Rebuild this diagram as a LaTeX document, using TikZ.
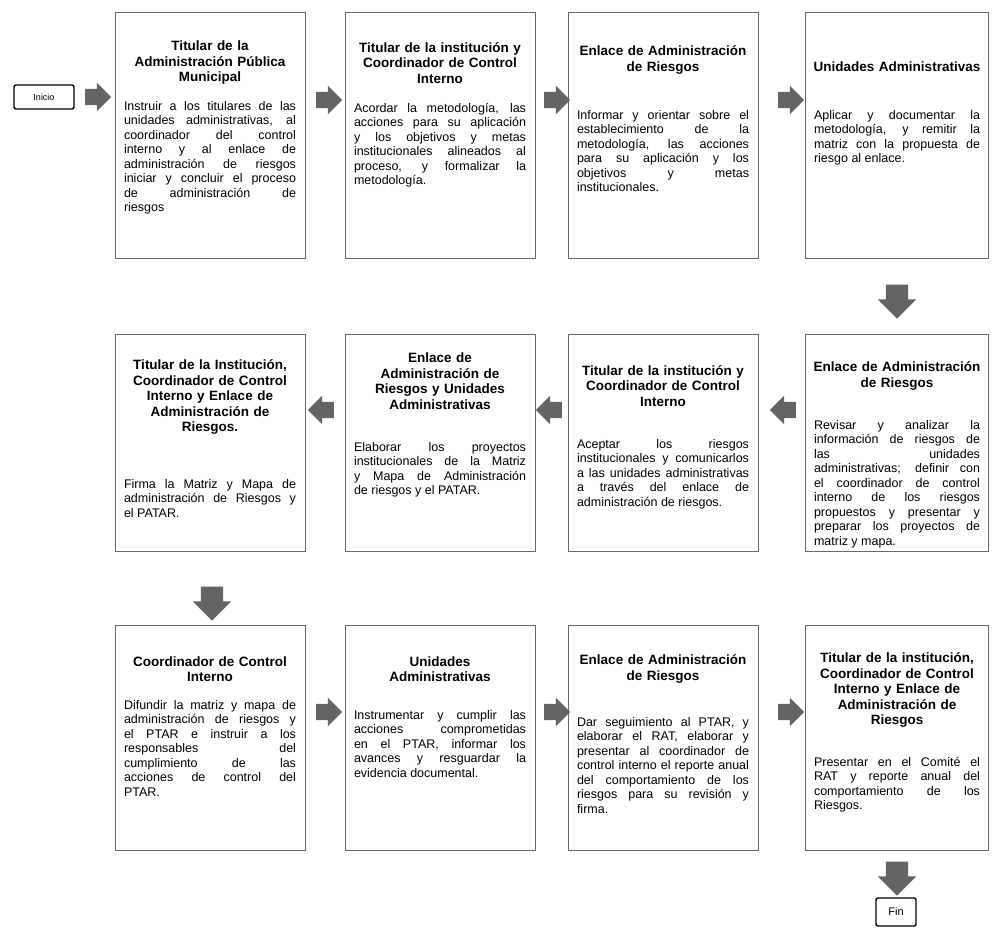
\documentclass[tikz,border=0pt]{standalone}
\usepackage{fontspec}
\setmainfont{Liberation Sans}
\usetikzlibrary{shapes.arrows,positioning}
\definecolor{grisflecha}{RGB}{100,100,100}
\definecolor{grisborde}{RGB}{105,105,105}
\hyphenpenalty=10000
\tolerance=9999
\hbadness=10000

\begin{document}
\begin{tikzpicture}[x=1pt,y=-1pt,
    caja/.style={draw=grisborde, line width=1pt, minimum width=190pt, inner sep=0},
    titulo/.style={text width=182pt, align=center, inner sep=0,
        font=\fontsize{13.5}{15.5}\selectfont\bfseries},
    cuerpo/.style={text width=172pt, align=justify, inner sep=0, anchor=north,
        font=\fontsize{12.5}{14.5}\selectfont},
    flecha/.style={single arrow, fill=grisflecha, draw=none, inner xsep=0, inner ysep=8pt,
        minimum height=26pt, single arrow head extend=6pt},
    flechagrande/.style={flecha, inner ysep=11pt, minimum height=34pt,
        single arrow head extend=8pt, rotate=-90},
    terminal/.style={draw, line width=1.4pt, rounded corners=2pt, inner sep=0}]
\useasboundingbox (0,0) rectangle (998,950);

% fila 1
\node[caja, minimum height=245pt] (p1) at (210,135.5) {};
\node[caja, minimum height=245pt] (p2) at (440,135.5) {};
\node[caja, minimum height=245pt] (p3) at (663,135.5) {};
\node[caja, minimum height=245pt, minimum width=183pt] (p4) at (897,135.5) {};

\node[titulo] (t1) at (210,63) {Titular de la\\ Administración Pública\\ Municipal};
\node[cuerpo] (c1) at (210,101) {Instruir a los titulares de las\linebreak unidades administrativas, al\linebreak coordinador del control\linebreak interno y al enlace de\linebreak administración de riesgos\linebreak iniciar y concluir el proceso\linebreak de administración de\linebreak riesgos};
\node[titulo] (t2) at (440,63) {Titular de la institución y\\ Coordinador de Control\\ Interno};
\node[cuerpo] (c2) at (440,103) {Acordar la metodología, las\linebreak acciones para su aplicación\linebreak y los objetivos y metas\linebreak institucionales alineados al\linebreak proceso, y formalizar la\linebreak metodología.};
\node[titulo] (t3) at (663,60) {Enlace de Administración\\ de Riesgos};
\node[cuerpo] (c3) at (663,110) {Informar y orientar sobre el\linebreak establecimiento de la\linebreak metodología, las acciones\linebreak para su aplicación y los\linebreak objetivos y metas\linebreak institucionales.};
\node[titulo] (t4) at (897,67) {Unidades Administrativas};
\node[cuerpo, text width=166pt] (c4) at (897,110) {Aplicar y documentar la\linebreak metodología, y remitir la\linebreak matriz con la propuesta de\linebreak riesgo al enlace.};

% fila 2
\node[caja, minimum height=217pt, minimum width=183pt] (p5) at (897,443) {};
\node[caja, minimum height=217pt] (p6) at (663,443) {};
\node[caja, minimum height=217pt] (p7) at (440,443) {};
\node[caja, minimum height=217pt] (p8) at (210,443) {};

\node[titulo] (t5) at (897,376) {Enlace de Administración\\ de Riesgos};
\node[cuerpo, text width=166pt] (c5) at (897,420) {Revisar y analizar la\linebreak información de riesgos de\linebreak las unidades\linebreak administrativas; definir con\linebreak el coordinador de control\linebreak interno de los riesgos\linebreak propuestos y presentar y\linebreak preparar los proyectos de\linebreak matriz y mapa.};
\node[titulo] (t6) at (663,386) {Titular de la institución y\\ Coordinador de Control\\ Interno};
\node[cuerpo] (c6) at (663,439) {Aceptar los riesgos\linebreak institucionales y comunicarlos\linebreak a las unidades administrativas\linebreak a través del enlace de\linebreak administración de riesgos.};
\node[titulo] (t7) at (440,381) {Enlace de\\ Administración de\\ Riesgos y Unidades\\ Administrativas};
\node[cuerpo] (c7) at (440,442) {Elaborar los proyectos\linebreak institucionales de la Matriz\linebreak y Mapa de Administración\linebreak de riesgos y el PATAR.};
\node[titulo] (t8) at (210,397) {Titular de la Institución,\\ Coordinador de Control\\ Interno y Enlace de\\ Administración de\\ Riesgos.};
\node[cuerpo] (c8) at (210,479) {Firma la Matriz y Mapa de\linebreak administración de Riesgos y\linebreak el PATAR.};

% fila 3
\node[caja, minimum height=225pt] (p9) at (210,737.5) {};
\node[caja, minimum height=225pt] (p10) at (440,737.5) {};
\node[caja, minimum height=225pt] (p11) at (663,737.5) {};
\node[caja, minimum height=225pt, minimum width=183pt] (p12) at (897,737.5) {};

\node[titulo] (t9) at (210,669) {Coordinador de Control\\ Interno};
\node[cuerpo] (c9) at (210,700) {Difundir la matriz y mapa de\linebreak administración de riesgos y\linebreak el PTAR e instruir a los\linebreak responsables del\linebreak cumplimiento de las\linebreak acciones de control del\linebreak PTAR.};
\node[titulo] (t10) at (440,669) {Unidades\\ Administrativas};
\node[cuerpo] (c10) at (440,710) {Instrumentar y cumplir las\linebreak acciones comprometidas\linebreak en el PTAR, informar los\linebreak avances y resguardar la\linebreak evidencia documental.};
\node[titulo] (t11) at (663,669) {Enlace de Administración\\ de Riesgos};
\node[cuerpo] (c11) at (663,717) {Dar seguimiento al PTAR, y\linebreak elaborar el RAT, elaborar y\linebreak presentar al coordinador de\linebreak control interno el reporte anual\linebreak del comportamiento de los\linebreak riesgos para su revisión y\linebreak firma.};
\node[titulo] (t12) at (897,690) {Titular de la institución,\\ Coordinador de Control\\ Interno y Enlace de\\ Administración de\\ Riesgos};
\node[cuerpo, text width=166pt] (c12) at (897,757) {Presentar en el Comité el\linebreak RAT y reporte anual del\linebreak comportamiento de los\linebreak Riesgos.};

% inicio, fin y flechas
\node[terminal, minimum width=60pt, minimum height=24pt, font=\fontsize{9}{10}\selectfont] (ini) at (44,97) {Inicio};
\node[terminal, minimum width=40pt, minimum height=28pt, font=\fontsize{11}{12}\selectfont] (fin) at (896,912) {Fin};

\node[flecha] (f0) at (94,97) {};
\node[flecha] (f1) at (325,100) {};
\node[flecha] (f2) at (553,100) {};
\node[flecha] (f3) at (787,100) {};
\node[flechagrande] (f4) at (897,296) {};
\node[flecha, rotate=180] (f5) at (787,410) {};
\node[flecha, rotate=180] (f6) at (553,410) {};
\node[flecha, rotate=180] (f7) at (325,410) {};
\node[flechagrande] (f8) at (212,598) {};
\node[flecha] (f9) at (325,712) {};
\node[flecha] (f10) at (553,712) {};
\node[flecha] (f11) at (787,712) {};
\node[flechagrande] (f12) at (897,873) {};
\end{tikzpicture}
\end{document}
